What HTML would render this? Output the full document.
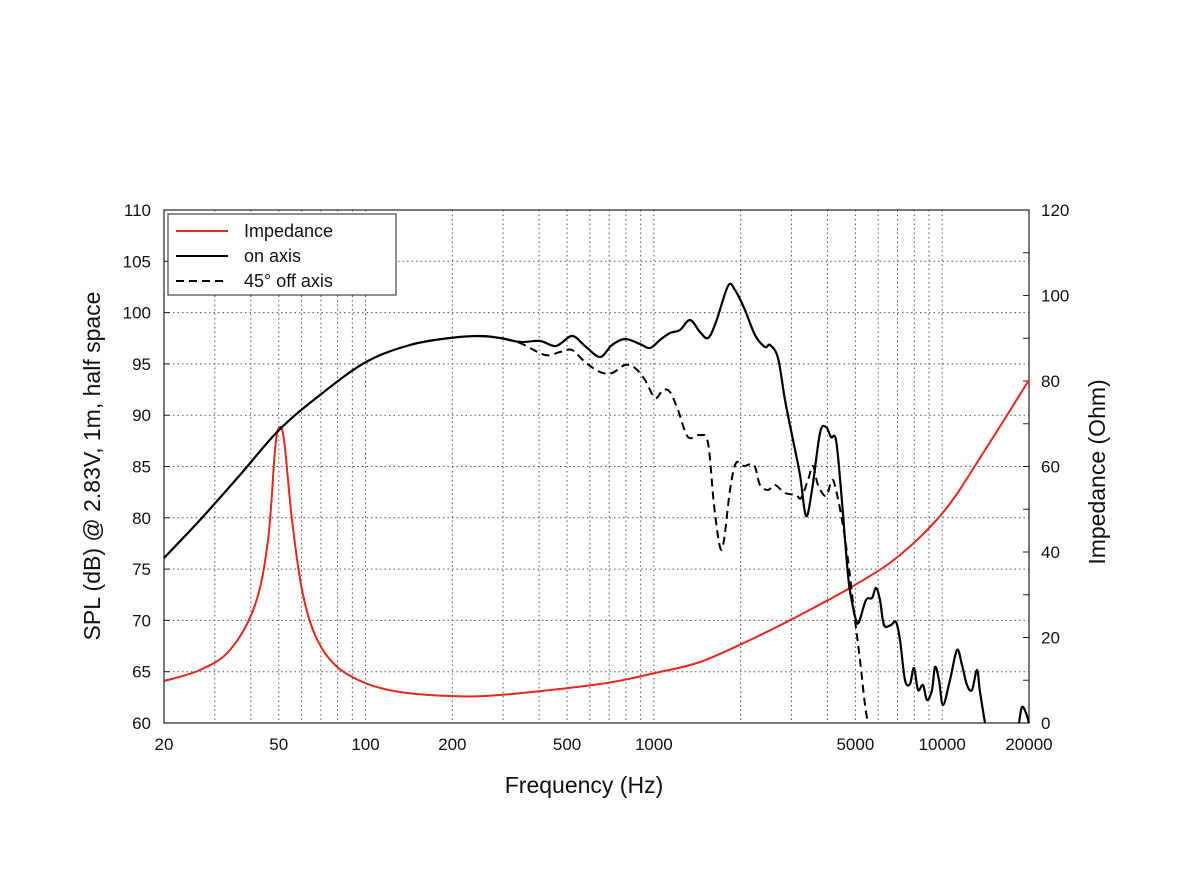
<!DOCTYPE html>
<html><head><meta charset="utf-8"><style>
body{margin:0;background:#fff}
svg text{font-family:"Liberation Sans",sans-serif;fill:#111}
</style></head><body>
<svg id="s" width="1186" height="890" xmlns="http://www.w3.org/2000/svg">
<rect x="0" y="0" width="1186" height="890" fill="#fff"/>
<g id="grid" stroke="#555" stroke-width="1" stroke-dasharray="1.5,3"></g>
<rect x="164" y="210" width="865" height="513" fill="none" stroke="#222" stroke-width="1.2"/>
<g id="ticks" stroke="#222" stroke-width="1"></g>
<g id="labels" font-size="17"></g>
<path id="imp" fill="none" stroke="#e8261c" stroke-width="2"/>
<path id="dash" fill="none" stroke="#000" stroke-width="2" stroke-dasharray="8,5"/>
<path id="on" fill="none" stroke="#000" stroke-width="2.2"/>
<rect x="168" y="214" width="228" height="81" fill="#fff" stroke="#222" stroke-width="1"/>
<line x1="176" y1="231" x2="228" y2="231" stroke="#e8261c" stroke-width="2"/>
<line x1="176" y1="256" x2="228" y2="256" stroke="#000" stroke-width="2"/>
<line x1="176" y1="281" x2="228" y2="281" stroke="#000" stroke-width="2" stroke-dasharray="8,5"/>
<text x="244" y="237" font-size="18">Impedance</text>
<text x="244" y="262" font-size="18">on axis</text>
<text x="244" y="287" font-size="18">45° off axis</text>
<text x="584" y="793" font-size="23" text-anchor="middle">Frequency (Hz)</text>
<text transform="translate(100,466) rotate(-90)" font-size="23" text-anchor="middle">SPL (dB) @ 2.83V, 1m, half space</text>
<text transform="translate(1105,472) rotate(-90)" font-size="23" text-anchor="middle">Impedance (Ohm)</text>
</svg>
<script>
const X=f=>164+Math.log10(f/20)*288.33, Y=d=>723-(d-60)*10.26;
const ns="http://www.w3.org/2000/svg";
function el(p,t,a,txt){const e=document.createElementNS(ns,t);for(const k in a)e.setAttribute(k,a[k]);if(txt!=null)e.textContent=txt;document.getElementById(p).appendChild(e);}
for(const dec of [10,100,1000,10000])for(let m=1;m<10;m++){const f=dec*m;if(f<=20||f>=20000)continue;const x=X(f);el('grid','line',{x1:x,y1:210,x2:x,y2:723});}
for(let d=65;d<110;d+=5)el('grid','line',{x1:164,y1:Y(d),x2:1029,y2:Y(d)});
for(let d=60;d<=110;d+=5){el('labels','text',{x:151,y:Y(d)+6,'text-anchor':'end'},d);el('ticks','line',{x1:164,y1:Y(d),x2:170,y2:Y(d)});}
for(let i=0;i<=120;i+=10){const y=723-i*4.275;el('ticks','line',{x1:1029,y1:y,x2:1023,y2:y});if(i%20==0)el('labels','text',{x:1041,y:y+6},i);}
for(const f of [20,50,100,200,500,1000,5000,10000,20000])el('labels','text',{x:X(f),y:750,'text-anchor':'middle'},f);
function sp(p){let d='M'+p[0];for(let i=0;i<p.length-1;i++){const p0=p[i-1]||p[i],p1=p[i],p2=p[i+1],p3=p[i+2]||p2;const c1=[p1[0]+(p2[0]-p0[0])/6,p1[1]+(p2[1]-p0[1])/6],c2=[p2[0]-(p3[0]-p1[0])/6,p2[1]-(p3[1]-p1[1])/6];d+='C'+c1+' '+c2+' '+p2;}return d;}
const on=[[164,558],[200,520],[240,475],[279,430],[320,395],[366,362],[410,345],[450,338],[480,336],[500,338],[520,342],[540,341],[556,346],[572,336],[585,346],[600,357],[612,345],[625,339],[640,344],[650,348],[660,340],[670,333],[680,330],[690,320],[700,332],[708,338],[716,322],[728,286],[735,290],[745,310],[755,335],[765,347],[770,345],[778,358],[785,400],[793,440],[800,475],[806,516],[812,490],[820,433],[826,427],[831,437],[836,440],[841,490],[848,575],[852,602],[856,620],[859,622],[866,600],[872,598],[876,588],[880,600],[884,625],[891,625],[896,622],[900,640],[905,680],[910,684],[914,668],[918,690],[923,685],[927,700],[932,690],[935,667],[939,680],[943,705],[950,680],[957,650],[962,665],[967,685],[972,690],[977,670],[980,692],[985,723]];
document.getElementById('on').setAttribute('d',sp(on)+' M1019,723 '+sp([[1019,723],[1022,707],[1026,713],[1029,723]]).slice(1).replace(/^[^C]*/,''));
const da=[[480,336],[500,338],[520,343],[545,355],[560,352],[572,350],[585,362],[600,372],[612,373],[625,365],[635,368],[645,380],[655,398],[663,390],[670,392],[678,410],[688,437],[700,435],[708,443],[714,505],[720,547],[724,540],[730,490],[736,463],[744,466],[754,465],[760,485],[768,490],[775,485],[785,493],[796,495],[801,498],[808,480],[813,466],[818,485],[826,496],[832,480],[836,490],[842,520],[848,560],[855,620],[860,660],[865,705],[868,723]];
document.getElementById('dash').setAttribute('d',sp(da));
const im=[[164,681],[200,670],[230,650],[255,605],[268,540],[275,450],[279,428],[284,440],[292,520],[302,590],[315,635],[335,665],[365,683],[400,692],[450,696],[500,695],[600,684],[655,673],[700,662],[750,640],[800,615],[855,585],[900,555],[945,510],[985,450],[1029,380]];
document.getElementById('imp').setAttribute('d',sp(im));
</script>
</body></html>
